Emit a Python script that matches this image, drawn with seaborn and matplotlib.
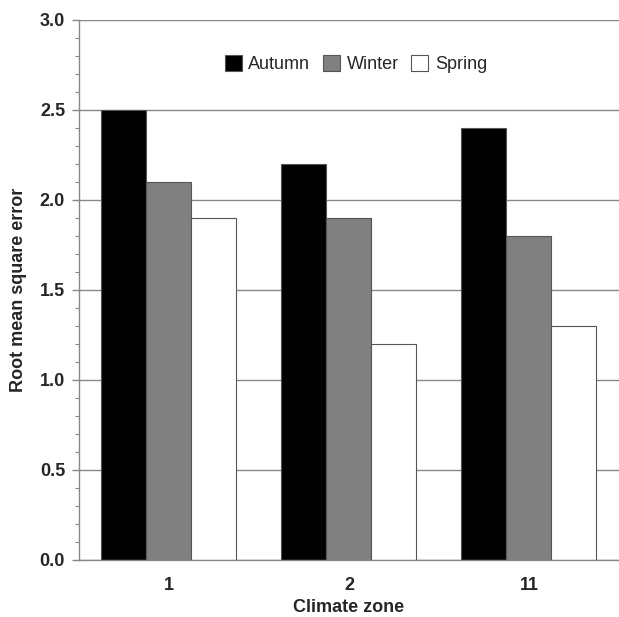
import pandas as pd
import seaborn as sns
import matplotlib.pyplot as plt
from matplotlib.ticker import MultipleLocator

zones = ['1', '2', '11']
autumn = [2.5, 2.2, 2.4]
winter = [2.1, 1.9, 1.8]
spring = [1.9, 1.2, 1.3]
seasons = ['Autumn', 'Winter', 'Spring']

df = pd.DataFrame({
    'zone': zones * 3,
    'season': [s for s in seasons for _ in zones],
    'rmse': autumn + winter + spring,
})

sns.set_style('white')
plt.rcParams['font.family'] = ['Liberation Sans', 'DejaVu Sans']

fig = plt.figure(figsize=(6.19, 6.17), dpi=100)
ax = fig.add_axes([0.1276, 0.0924, 0.8724, 0.8752])

ax.yaxis.grid(True, color='#888888', linewidth=1)
ax.set_axisbelow(True)

sns.barplot(data=df, x='zone', y='rmse', hue='season', order=zones,
            hue_order=seasons, palette=['black', '#808080', 'white'],
            saturation=1, width=0.75, edgecolor='#555555', linewidth=0.8, ax=ax)

ax.set_xlim(-0.5, 2.5)
ax.set_ylim(0, 3.0)
ax.yaxis.set_major_locator(MultipleLocator(0.5))
ax.yaxis.set_minor_locator(MultipleLocator(0.1))
ax.set_yticklabels([f'{v:.1f}' for v in ax.get_yticks()])
ax.tick_params(axis='y', which='major', left=True, length=5, width=1, color='#888888',
               labelsize=13, pad=5)
ax.tick_params(axis='y', which='minor', left=True, length=3, width=0.8, color='#888888')
ax.tick_params(axis='x', bottom=False, labelsize=13, pad=9)
for lab in ax.get_xticklabels() + ax.get_yticklabels():
    lab.set_fontweight('bold')

for side in ['top', 'right']:
    ax.spines[side].set_visible(False)
for side in ['left', 'bottom']:
    ax.spines[side].set_color('#888888')
    ax.spines[side].set_linewidth(1)

ax.set_xlabel('Climate zone', fontsize=13, fontweight='bold', labelpad=3)
ax.set_ylabel('Root mean square error', fontsize=13, fontweight='bold', labelpad=9)

ax.legend(loc='upper center', bbox_to_anchor=(0.513, 0.965), ncol=3, frameon=False,
          fontsize=13, handlelength=0.95, handleheight=1.0, handletextpad=0.35,
          columnspacing=0.7)

plt.savefig('out.png', dpi=100)
